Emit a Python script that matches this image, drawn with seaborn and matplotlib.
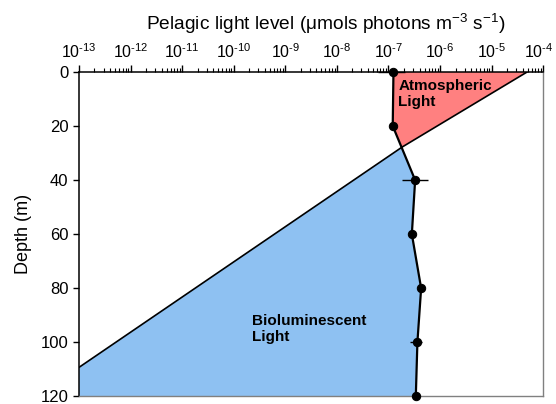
import numpy as np
import pandas as pd
import seaborn as sns
import matplotlib.pyplot as plt
import matplotlib.transforms as mtransforms
from matplotlib.ticker import LogLocator, FuncFormatter, NullFormatter

# measured pelagic light profile
depth = [0, 20, 40, 60, 80, 100, 120]
light = [1.25e-7, 1.21e-7, 3.29e-7, 2.84e-7, 4.30e-7, 3.64e-7, 3.39e-7]
err_lo = [6.2e-8, 0, 1.48e-7, 0, 0, 1.0e-7, 0]
err_hi = [8.5e-8, 0, 2.67e-7, 0, 0, 0.8e-7, 0]

# attenuation lines
atm_depth = [0, 27.8]
atm_light = [4.9e-5, 1.84e-7]
bio_depth = [27.8, 109.3]
bio_light = [1.84e-7, 1e-13]

x_min, x_max = 1e-13, 1e-4
y_max = 120

sns.set_style("ticks")
plt.rcParams["font.family"] = ["Liberation Sans", "DejaVu Sans"]
plt.rcParams["mathtext.fontset"] = "custom"
plt.rcParams["mathtext.rm"] = "Liberation Sans"
plt.rcParams["mathtext.default"] = "regular"
plt.rcParams["text.color"] = "black"
plt.rcParams["axes.labelcolor"] = "black"
plt.rcParams["xtick.color"] = "black"
plt.rcParams["ytick.color"] = "black"

fig, ax = plt.subplots(figsize=(5.56, 4.04), dpi=100)
fig.subplots_adjust(left=0.142, right=0.977, top=0.822, bottom=0.019)

# filled regions
red_x = [light[0], light[1], atm_light[1], atm_light[0]]
red_y = [depth[0], depth[1], atm_depth[1], atm_depth[0]]
ax.fill(red_x, red_y, color="#FF8080", lw=0, zorder=1)

blue_x = [bio_light[0]] + light[2:] + [x_min, bio_light[1]]
blue_y = [bio_depth[0]] + depth[2:] + [y_max, bio_depth[1]]
ax.fill(blue_x, blue_y, color="#8EC1F2", lw=0, zorder=1)

ax.plot(atm_light, atm_depth, color="black", lw=1.2, zorder=2)
ax.plot(bio_light, bio_depth, color="black", lw=1.2, zorder=2)

df = pd.DataFrame({"Depth": depth, "Light": light})
eb = ax.errorbar(light, depth, xerr=[err_lo, err_hi], fmt="none",
                 ecolor="black", elinewidth=1.0, zorder=3)
for c in eb.get_children():
    c.set_clip_on(False)
sns.lineplot(data=df, x="Light", y="Depth", orient="y", sort=False,
             color="black", lw=1.6, marker="o", markersize=6,
             markeredgecolor="black", ax=ax, zorder=4, clip_on=False)


def pow_label(v, pos):
    e = int(round(np.log10(v)))
    return r"$10^{\text{-}%d}$" % (-e)


ax.set_xscale("log")
ax.set_xlim(x_min, x_max)
ax.set_ylim(y_max, 0)
ax.xaxis.set_major_locator(LogLocator(base=10, numticks=20))
ax.xaxis.set_minor_locator(LogLocator(base=10, subs=np.arange(2, 10), numticks=20))
ax.xaxis.set_major_formatter(FuncFormatter(pow_label))
ax.xaxis.set_minor_formatter(NullFormatter())
ax.set_yticks(np.arange(0, 121, 20))

ax.xaxis.tick_top()
ax.xaxis.set_label_position("top")
ax.tick_params(axis="x", which="major", direction="out", length=5, width=1,
               labelsize=11.5, pad=3, top=True, bottom=False)
ax.tick_params(axis="x", which="minor", direction="out", length=3, width=0.8,
               top=True, bottom=False)
ax.tick_params(axis="y", which="major", direction="out", length=4, width=1,
               labelsize=12, left=True, right=False)

for s in ["left", "top"]:
    ax.spines[s].set_color("black")
    ax.spines[s].set_linewidth(1.1)
for s in ["right", "bottom"]:
    ax.spines[s].set_visible(True)
    ax.spines[s].set_color("#808080")
    ax.spines[s].set_linewidth(1.0)

ax.set_xlabel("Pelagic light level (\u03bcmols photons m$^{-3}$ s$^{-1}$)",
              fontsize=13.8)
ax.xaxis.set_label_coords(0.532, 1.13)
ax.set_ylabel("Depth (m)", fontsize=13, labelpad=6)

ax.text(1.55e-7, 2.6, "Atmospheric\nLight", fontsize=11, fontweight="bold",
        ha="left", va="top", linespacing=1.15, zorder=5)
ax.text(2.26e-10, 89.5, "Bioluminescent\nLight", fontsize=11, fontweight="bold",
        ha="left", va="top", linespacing=1.15, zorder=5)

# keep the last top tick label inside the canvas
fig.canvas.draw()
shift = mtransforms.ScaledTranslation(-3 / 72, 0, fig.dpi_scale_trans)
last = ax.xaxis.get_majorticklabels()[-1]
for t in ax.xaxis.get_major_ticks():
    if abs(t.get_loc() - x_max) / x_max < 1e-6:
        t.label2.set_transform(t.label2.get_transform() + shift)

fig.savefig("out.png", dpi=100)
